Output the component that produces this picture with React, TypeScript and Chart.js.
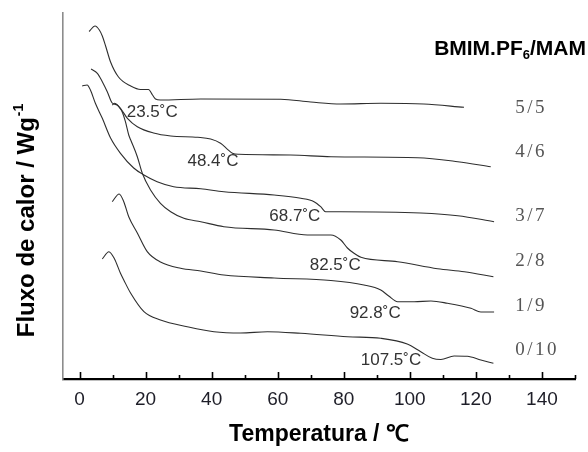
import React, { useEffect, useRef } from "react";
import { Chart, registerables } from "chart.js";

Chart.register(...registerables);

// BMIM.PF6 / MAM composition of each trace, top to bottom
const ratioLabels = ["5/5", "4/6", "3/7", "2/8", "1/9", "0/10"];

// Glass transition temperatures (°C), same order
const tgValues = [23.5, 48.4, 68.7, 82.5, 92.8, 107.5];

// DSC traces: temperature (°C) and vertically offset heat flow (arb. units)
const temp55 = [2.9, 4.7, 6.0, 6.9, 7.9, 9.4, 11.8, 15.5, 18.5, 20.9, 22.1, 23.0, 24.5, 36.7, 60.9, 70.0, 79.1, 91.2, 104.2, 116.4];
const flow55 = [347.5, 353, 349, 343, 333, 317, 302, 293, 289.5, 289.5, 284, 280, 279, 280, 279.7, 277, 275, 275.7, 275, 271.7];

const temp46 = [3.5, 5.4, 6.9, 8.4, 9.9, 11.4, 12.4, 14.5, 17.5, 22.4, 27.6, 35.8, 39.7, 42.7, 44.8, 46.3, 48.3, 63.9, 76.1, 102.3, 114.5, 124.5];
const flow46 = [310, 305.7, 297.3, 287.3, 276, 274, 270.7, 260.7, 252.3, 246, 243, 241.7, 240, 235.7, 229.7, 225.7, 224.7, 224, 222.3, 221.3, 217.3, 212.3];

const temp37 = [0.8, 2.3, 3.3, 4.8, 6.9, 9.4, 12.4, 16.4, 19.5, 23.5, 28.5, 36.7, 43.7, 58.9, 67.0, 71.0, 73.0, 74.5, 79.1, 103.3, 114.5, 125.5];
const flow37 = [293, 294, 289, 275.7, 260.7, 241, 225.7, 211, 204, 197.3, 192.3, 190.3, 187.3, 184, 180.7, 177.3, 172.3, 167.3, 167.3, 166, 163.3, 157.3];

const temp28 = [9.9, 10.6, 11.9, 12.9, 13.9, 14.9, 15.5, 17.5, 19.0, 21.5, 24.5, 27.6, 31.6, 36.7, 43.7, 58.9, 69.0, 76.1, 79.1, 81.1, 83.1, 85.2, 96.3, 108.4, 116.5, 125.3];
const flow28 = [274, 275.7, 272.3, 267.3, 257.3, 244, 239, 222.3, 205.7, 189, 175.7, 167.3, 160.7, 157.3, 152.3, 149, 144, 144, 139, 131, 125.7, 121.7, 117.3, 110.3, 107.3, 102.3];

const temp19 = [9.9, 12.0, 13.4, 14.9, 17.5, 20.5, 24.5, 30.6, 36.7, 43.7, 58.9, 76.1, 86.1, 91.2, 93.6, 96.3, 101.3, 106.4, 111.4, 118.5, 121.5, 125.5];
const flow19 = [177.3, 185, 177.3, 162.3, 146, 127.3, 117, 110.7, 108, 104, 101, 98.5, 94, 89, 83, 77.3, 77.3, 78, 75.7, 70.7, 67, 67];

const temp010 = [6.9, 8.9, 10.6, 12.4, 13.4, 15.5, 19.5, 24.5, 32.6, 40.7, 48.8, 56.9, 67.0, 81.1, 91.2, 99.2, 103.3, 106.8, 109.4, 113.4, 117.4, 121.5, 125.3];
const flow010 = [120, 127.3, 120, 105.7, 99, 85.7, 67.3, 59, 52.3, 47.3, 46, 47.3, 45.7, 42.3, 40.7, 35, 27.3, 20.7, 19.5, 23, 22.7, 19, 15.7];

const seriesTemps = [temp55, temp46, temp37, temp28, temp19, temp010];
const seriesFlows = [flow55, flow46, flow37, flow28, flow19, flow010];

// Anchor points (data units) for the Tg annotations and the composition labels
const tgLabelTemp = [22.0, 40.4, 65.2, 77.4, 89.5, 94.3];
const tgLabelFlow = [267, 218, 163, 114, 66, 19];
const ratioLabelTemp = [131.9, 131.9, 131.9, 131.9, 131.9, 131.9];
const ratioLabelFlow = [271, 227, 163, 118, 73, 29];

const SANS = "'Liberation Sans', Arial, sans-serif";
const SERIF = "'Liberation Serif', 'Times New Roman', serif";

const decorations = {
  id: "dscDecorations",
  afterDraw(chart: any) {
    const { ctx } = chart;
    const xs = chart.scales.x;
    const ys = chart.scales.y;
    const axisY = chart.chartArea.bottom;

    ctx.save();

    // inward tick marks on the temperature axis
    ctx.strokeStyle = "#000";
    ctx.lineWidth = 1.6;
    for (let v = 0; v <= 150; v += 10) {
      const px = Math.round(xs.getPixelForValue(v)) + 0.5;
      const len = v % 20 === 0 ? 7 : 4;
      ctx.beginPath();
      ctx.moveTo(px, axisY);
      ctx.lineTo(px, axisY - len);
      ctx.stroke();
    }

    // Tg annotations
    ctx.fillStyle = "#333";
    ctx.font = `17px ${SANS}`;
    ctx.textAlign = "center";
    ctx.textBaseline = "middle";
    tgValues.forEach((tg, i) => {
      ctx.fillText(`${tg.toFixed(1)}˚C`, xs.getPixelForValue(tgLabelTemp[i]), ys.getPixelForValue(tgLabelFlow[i]));
    });

    // composition labels
    ctx.fillStyle = "#555";
    ctx.font = `19px ${SERIF}`;
    ctx.textAlign = "left";
    (ctx as any).letterSpacing = "2.5px";
    ratioLabels.forEach((r, i) => {
      ctx.fillText(r, xs.getPixelForValue(ratioLabelTemp[i]), ys.getPixelForValue(ratioLabelFlow[i]));
    });
    (ctx as any).letterSpacing = "0px";

    // legend heading: BMIM.PF6/MAM
    ctx.fillStyle = "#000";
    ctx.textBaseline = "alphabetic";
    const headBig = `bold 21px ${SANS}`;
    const headSub = `bold 13px ${SANS}`;
    ctx.font = headBig;
    const w1 = ctx.measureText("BMIM.PF").width;
    const w3 = ctx.measureText("/MAM").width;
    ctx.font = headSub;
    const w2 = ctx.measureText("6").width;
    let hx = 586 - (w1 + w2 + w3);
    const hy = 55;
    ctx.font = headBig;
    ctx.fillText("BMIM.PF", hx, hy);
    hx += w1;
    ctx.font = headSub;
    ctx.fillText("6", hx, hy + 4);
    hx += w2;
    ctx.font = headBig;
    ctx.fillText("/MAM", hx, hy);

    // x-axis title
    ctx.font = `bold 23px ${SANS}`;
    ctx.textAlign = "center";
    ctx.fillText("Temperatura / ℃", (chart.chartArea.left + chart.chartArea.right) / 2, 441);

    // y-axis title, rotated, with superscript
    ctx.translate(34, 221);
    ctx.rotate(-Math.PI / 2);
    ctx.textAlign = "left";
    const yMain = `bold 24px ${SANS}`;
    const ySup = `bold 14px ${SANS}`;
    ctx.font = yMain;
    const m1 = ctx.measureText("Fluxo de calor / Wg").width;
    ctx.font = ySup;
    const m2 = ctx.measureText("-1").width;
    const start = -(m1 + m2) / 2;
    ctx.font = yMain;
    ctx.fillText("Fluxo de calor / Wg", start, 0);
    ctx.font = ySup;
    ctx.fillText("-1", start + m1 + 1, -11);

    ctx.restore();
  },
};

export default function App() {
  const canvasRef = useRef<HTMLCanvasElement | null>(null);

  useEffect(() => {
    const canvas = canvasRef.current;
    if (!canvas) return;

    const datasets = seriesTemps.map((temps, i) => ({
      label: ratioLabels[i],
      data: temps.map((t, j) => ({ x: t, y: seriesFlows[i][j] })),
      borderColor: "#2e2e2e",
      borderWidth: 1.1,
      pointRadius: 0,
      cubicInterpolationMode: "monotone" as const,
      fill: false,
    }));

    const chart = new Chart(canvas, {
      type: "line",
      data: { datasets },
      options: {
        animation: false,
        responsive: false,
        maintainAspectRatio: false,
        devicePixelRatio: 1,
        layout: { padding: { top: 13, right: 13, left: 0, bottom: 0 } },
        plugins: {
          legend: { display: false },
          tooltip: { enabled: false },
        },
        scales: {
          x: {
            type: "linear",
            min: -5,
            max: 150,
            grid: { display: false, drawTicks: false },
            border: { display: true, color: "#000", width: 2.2 },
            ticks: {
              stepSize: 10,
              includeBounds: false,
              autoSkip: false,
              maxRotation: 0,
              padding: 9,
              color: "#1e1e28",
              font: { family: SANS, size: 19 },
              callback: (v: any) => (Number(v) % 20 === 0 && Number(v) >= 0 && Number(v) <= 140 ? String(v) : ""),
            },
            afterFit: (s: any) => {
              s.height = 73;
            },
          },
          y: {
            type: "linear",
            min: 0,
            max: 366,
            grid: { display: false, drawTicks: false },
            border: { display: true, color: "#8c8c8c", width: 1.6 },
            ticks: { display: false },
            afterFit: (s: any) => {
              s.width = 63;
            },
          },
        },
      },
      plugins: [decorations],
    });

    return () => chart.destroy();
  }, []);

  return (
    <div style={{ position: "fixed", left: 0, top: 0, width: 588, height: 452, background: "#fff" }}>
      <canvas ref={canvasRef} width={588} height={452} style={{ display: "block" }} />
    </div>
  );
}
